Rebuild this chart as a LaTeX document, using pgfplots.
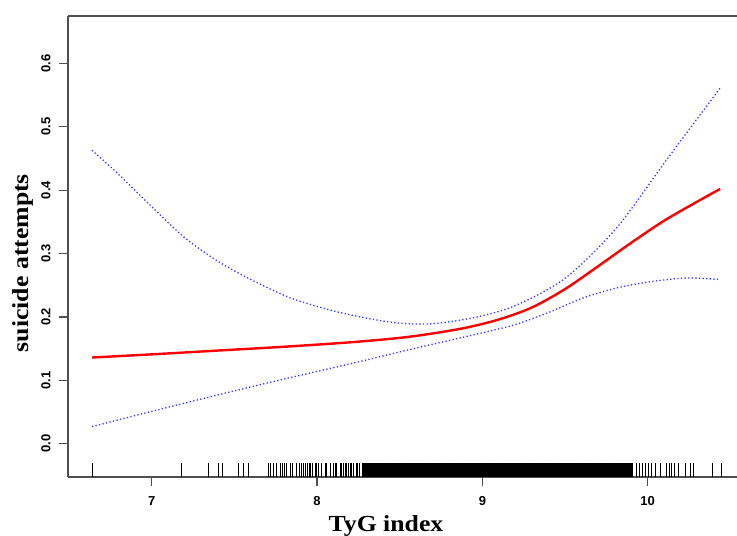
\documentclass[border=0pt]{standalone}
\usepackage{fontspec}
\setmainfont{Liberation Serif}
\setsansfont{Liberation Sans}
\newfontfamily\labfont[FakeStretch=1.12]{Liberation Serif}
\usepackage{pgfplots}
\pgfplotsset{compat=1.18}
\usepackage{pgfplotstable}

\definecolor{axgray}{RGB}{80,80,80}
\definecolor{ciblue}{RGB}{55,55,255}

% fitted curve
\pgfplotstableread{
x y
6.639 0.136
7.0 0.141
7.4 0.147
7.8 0.153
8.2 0.160
8.5 0.167
8.7 0.174
8.9 0.183
9.1 0.196
9.3 0.215
9.5 0.244
9.7 0.280
9.9 0.317
10.1 0.352
10.3 0.382
10.438 0.402
}\fitline

% upper band
\pgfplotstableread{
x y
6.639 0.463
6.8 0.425
7.0 0.374
7.2 0.325
7.4 0.288
7.6 0.259
7.85 0.229
8.14 0.207
8.44 0.192
8.68 0.189
8.95 0.199
9.2 0.218
9.5 0.261
9.81 0.340
10.12 0.450
10.438 0.561
}\ciup

% lower band
\pgfplotstableread{
x y
6.639 0.027
7.0 0.051
7.4 0.077
7.8 0.102
8.2 0.126
8.6 0.151
9.0 0.175
9.2 0.188
9.4 0.207
9.6 0.229
9.8 0.245
10.0 0.255
10.2 0.261
10.32 0.261
10.438 0.259
}\cilo

% rug, single observations
\pgfplotstableread{
x y
6.643 -0.0417
7.181 -0.0417
7.342 -0.0417
7.403 -0.0417
7.430 -0.0417
7.524 -0.0417
7.558 -0.0417
7.584 -0.0417
7.705 -0.0417
7.720 -0.0417
7.736 -0.0417
7.756 -0.0417
7.776 -0.0417
7.792 -0.0417
7.806 -0.0417
7.817 -0.0417
7.841 -0.0417
7.853 -0.0417
7.877 -0.0417
7.893 -0.0417
7.907 -0.0417
7.917 -0.0417
7.933 -0.0417
7.941 -0.0417
7.953 -0.0417
7.962 -0.0417
7.974 -0.0417
7.988 -0.0417
7.998 -0.0417
8.008 -0.0417
8.028 -0.0417
8.048 -0.0417
8.059 -0.0417
8.079 -0.0417
8.099 -0.0417
8.109 -0.0417
8.119 -0.0417
8.139 -0.0417
8.149 -0.0417
8.159 -0.0417
8.169 -0.0417
8.180 -0.0417
8.189 -0.0417
8.200 -0.0417
8.210 -0.0417
8.220 -0.0417
8.236 -0.0417
8.244 -0.0417
8.256 -0.0417
9.934 -0.0417
9.950 -0.0417
9.970 -0.0417
9.984 -0.0417
10.004 -0.0417
10.025 -0.0417
10.045 -0.0417
10.075 -0.0417
10.116 -0.0417
10.131 -0.0417
10.146 -0.0417
10.162 -0.0417
10.186 -0.0417
10.226 -0.0417
10.256 -0.0417
10.276 -0.0417
10.394 -0.0417
10.444 -0.0417
}\rugsparse

% rug, dense block
\pgfplotstableread{
x y
8.28 -0.0417
8.30 -0.0417
8.32 -0.0417
8.34 -0.0417
8.36 -0.0417
8.38 -0.0417
8.40 -0.0417
8.42 -0.0417
8.44 -0.0417
8.46 -0.0417
8.48 -0.0417
8.50 -0.0417
8.52 -0.0417
8.54 -0.0417
8.56 -0.0417
8.58 -0.0417
8.60 -0.0417
8.62 -0.0417
8.64 -0.0417
8.66 -0.0417
8.68 -0.0417
8.70 -0.0417
8.72 -0.0417
8.74 -0.0417
8.76 -0.0417
8.78 -0.0417
8.80 -0.0417
8.82 -0.0417
8.84 -0.0417
8.86 -0.0417
8.88 -0.0417
8.90 -0.0417
8.92 -0.0417
8.94 -0.0417
8.96 -0.0417
8.98 -0.0417
9.00 -0.0417
9.02 -0.0417
9.04 -0.0417
9.06 -0.0417
9.08 -0.0417
9.10 -0.0417
9.12 -0.0417
9.14 -0.0417
9.16 -0.0417
9.18 -0.0417
9.20 -0.0417
9.22 -0.0417
9.24 -0.0417
9.26 -0.0417
9.28 -0.0417
9.30 -0.0417
9.32 -0.0417
9.34 -0.0417
9.36 -0.0417
9.38 -0.0417
9.40 -0.0417
9.42 -0.0417
9.44 -0.0417
9.46 -0.0417
9.48 -0.0417
9.50 -0.0417
9.52 -0.0417
9.54 -0.0417
9.56 -0.0417
9.58 -0.0417
9.60 -0.0417
9.62 -0.0417
9.64 -0.0417
9.66 -0.0417
9.68 -0.0417
9.70 -0.0417
9.72 -0.0417
9.74 -0.0417
9.76 -0.0417
9.78 -0.0417
9.80 -0.0417
9.82 -0.0417
9.84 -0.0417
9.86 -0.0417
9.88 -0.0417
9.90 -0.0417
}\rugdense

\begin{document}
\begin{tikzpicture}
\useasboundingbox (-68pt,-59pt) rectangle (669pt,477pt);
\begin{axis}[
    at={(0,0)}, anchor=south west,
    scale only axis,
    width=669pt, height=461pt,
    xmin=6.494, xmax=10.54,
    ymin=-0.0525, ymax=0.6748,
    axis x line=box, axis y line=left,
    axis line style={-, axgray, line width=1.5pt},
    xtick={7,8,9,10},
    ytick={0,0.1,0.2,0.3,0.4,0.5,0.6},
    xtick pos=bottom, ytick pos=left,
    tick align=outside,
    major tick length=9pt,
    every tick/.style={axgray, line width=1.3pt},
    ticklabel style={font=\sffamily\bfseries\fontsize{13}{13}\selectfont},
    /pgf/number format/assume math mode=true,
    yticklabel style={rotate=90, anchor=south,
        /pgf/number format/.cd, fixed, fixed zerofill, precision=1},
    xticklabel style={anchor=north},
    xticklabel shift=7pt,
    yticklabel shift=5pt,
    xlabel={\labfont\bfseries\fontsize{23}{23}\selectfont TyG index},
    ylabel={\labfont\bfseries\fontsize{23}{23}\selectfont suicide attempts},
    xlabel style={at={(axis description cs:0.4753,-0.11866)}, anchor=base},
    ylabel style={at={(axis description cs:-0.05934,0.464)}, anchor=base},
    clip=false,
]
\addplot[smooth, ciblue, line width=1.3pt, dash pattern=on 1.3pt off 2.3pt] table {\ciup};
\addplot[smooth, ciblue, line width=1.3pt, dash pattern=on 1.3pt off 2.3pt] table {\cilo};
\addplot[smooth, red, line width=2.4pt] table {\fitline};
\addplot[only marks, mark=|, mark size=7.2pt, mark options={black, line width=0.9pt}] table {\rugsparse};
\addplot[only marks, mark=|, mark size=7.2pt, mark options={black, line width=3.6pt}] table {\rugdense};
\end{axis}
\end{tikzpicture}
\end{document}
